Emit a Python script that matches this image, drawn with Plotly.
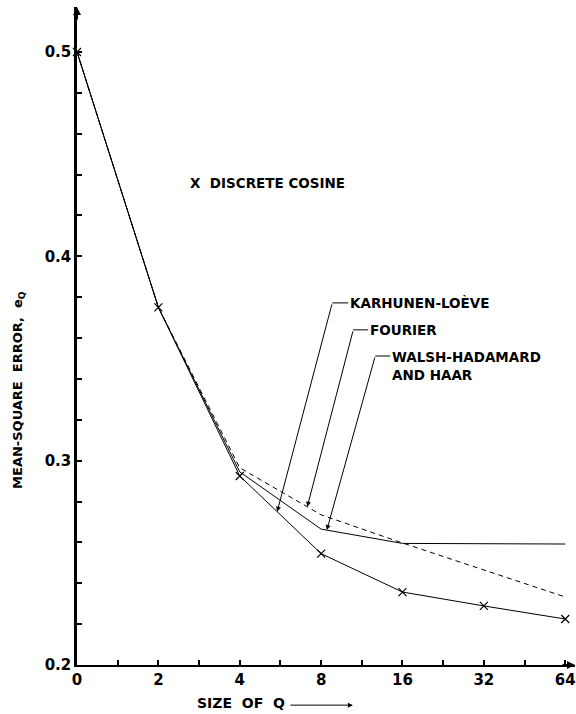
import numpy as np
import plotly.graph_objects as go

# ---- data ----
Q = [0, 2, 4, 8, 16, 32, 64]
dct = [0.500, 0.375, 0.2925, 0.2545, 0.2357, 0.2289, 0.2225]
kl = [0.500, 0.375, 0.2925, 0.2545, 0.2357, 0.2289, 0.2225]
fourier = [0.500, 0.375, 0.2965, 0.2735, 0.2597, 0.2465, 0.2333]
walsh = [0.500, 0.375, 0.2945, 0.2665, 0.2595, 0.2593, 0.2592]

x_tick_labels = ["0", "2", "4", "8", "16", "32", "64"]
y_tick_labels = {0.2: "0.2", 0.3: "0.3", 0.4: "0.4", 0.5: "0.5"}

# position on the axis: equal spacing per doubling, Q=0 at the origin
pos = [0.0 if q == 0 else float(np.log2(q)) for q in Q]

FONT = "DejaVu Sans"
BLACK = "black"

def bold(s):
    return "<b>" + s + "</b>"

fig = go.Figure()
fig.add_trace(go.Scatter(x=pos, y=walsh, mode="lines",
                         line=dict(color=BLACK, width=1), name="Walsh-Hadamard and Haar"))
fig.add_trace(go.Scatter(x=pos, y=fourier, mode="lines",
                         line=dict(color=BLACK, width=1, dash="5px,4px"), name="Fourier"))
fig.add_trace(go.Scatter(x=pos, y=kl, mode="lines",
                         line=dict(color=BLACK, width=1), name="Karhunen-Loève"))
fig.add_trace(go.Scatter(x=pos, y=dct, mode="markers",
                         marker=dict(symbol="x-thin", size=8, line=dict(color=BLACK, width=1.2)),
                         name="Discrete cosine", cliponaxis=False))

# ticks
xtickvals = [i * 0.5 for i in range(13)]
xticktext = [bold(x_tick_labels[int(v)]) if float(v).is_integer() else "" for v in xtickvals]
ytickvals = [round(0.2 + 0.02 * i, 2) for i in range(16)]
yticktext = [bold(y_tick_labels[round(v, 2)]) if round(v, 2) in y_tick_labels else "" for v in ytickvals]

XMAX = 6.12
YMAX = 0.522

fig.update_layout(
    width=576, height=714,
    margin=dict(l=77, r=1, t=7, b=49),
    paper_bgcolor="white", plot_bgcolor="white",
    showlegend=False,
    font=dict(family=FONT, size=14, color=BLACK),
    xaxis=dict(range=[0, XMAX], showgrid=False, zeroline=False, automargin=False,
               showline=True, linecolor=BLACK, linewidth=2,
               tickmode="array", tickvals=xtickvals, ticktext=xticktext,
               ticks="inside", ticklen=5, tickwidth=1.5, tickcolor=BLACK,
               tickfont=dict(family=FONT, size=15, color=BLACK)),
    yaxis=dict(range=[0.2, YMAX], showgrid=False, zeroline=False, automargin=False,
               showline=True, linecolor=BLACK, linewidth=2.5,
               tickmode="array", tickvals=ytickvals, ticktext=yticktext,
               ticks="inside", ticklen=5, tickwidth=1.5, tickcolor=BLACK,
               tickfont=dict(family=FONT, size=15, color=BLACK)),
)

# axis arrowheads
fig.add_annotation(x=XMAX, y=0.2, xref="x", yref="y", ax=-14, ay=0, text="",
                   showarrow=True, arrowhead=2, arrowsize=0.8, arrowwidth=2, arrowcolor=BLACK)
fig.add_annotation(x=0, y=YMAX, xref="x", yref="y", ax=0, ay=14, text="",
                   showarrow=True, arrowhead=2, arrowsize=0.8, arrowwidth=2, arrowcolor=BLACK)

# legend-like label for the cosine markers
fig.add_annotation(x=1.365, y=0.436, xref="x", yref="y", text=bold("X  DISCRETE COSINE"),
                   showarrow=False, xanchor="left", yanchor="middle",
                   font=dict(family=FONT, size=13.5, color=BLACK))

# labelled leader arrows
labels = [
    # text, series, tip position, corner x, label x, label y
    ("KARHUNEN-LOÈVE", kl, 2.46, 3.137, 3.333, 0.3772),
    ("FOURIER", fourier, 2.83, 3.395, 3.579, 0.3640),
    ("WALSH-HADAMARD<br>AND HAAR", walsh, 3.07, 3.665, 3.850, 0.3512),
]
for text, series, tip_x, corner_x, label_x, label_y in labels:
    tip_y = float(np.interp(tip_x, pos, series))
    fig.add_annotation(x=tip_x, y=tip_y, xref="x", yref="y",
                       ax=corner_x, ay=label_y, axref="x", ayref="y",
                       text="", showarrow=True, arrowhead=2, arrowsize=1,
                       arrowwidth=1, arrowcolor=BLACK, standoff=0)
    fig.add_shape(type="line", xref="x", yref="y", x0=corner_x, y0=label_y,
                  x1=label_x, y1=label_y, line=dict(color=BLACK, width=1))
    multi = "<br>" in text
    fig.add_annotation(x=label_x, y=label_y, xref="x", yref="y",
                       text="<br>".join(bold(t) for t in text.split("<br>")),
                       showarrow=False, xanchor="left", yanchor="top" if multi else "middle",
                       yshift=9 if multi else 0, align="left",
                       font=dict(family=FONT, size=13.5, color=BLACK))

# axis titles
fig.add_annotation(x=-0.1165, y=0.418, xref="paper", yref="paper",
                   text=bold("MEAN-SQUARE  ERROR,  e<sub>Q</sub>"), textangle=-90,
                   showarrow=False, xanchor="center", yanchor="middle",
                   font=dict(family=FONT, size=13, color=BLACK))
fig.add_annotation(x=0.236, y=-0.058, xref="paper", yref="paper",
                   text=bold("SIZE  OF  Q"), showarrow=False, xanchor="left", yanchor="middle",
                   font=dict(family=FONT, size=14, color=BLACK))
fig.add_annotation(x=0.554, y=-0.061, xref="paper", yref="paper",
                   ax=-64, ay=0, text="", showarrow=True, arrowhead=2,
                   arrowsize=1, arrowwidth=1, arrowcolor=BLACK)

fig.write_html("out.html", config={"displayModeBar": False},
               post_script="document.body.style.margin='0px';")
